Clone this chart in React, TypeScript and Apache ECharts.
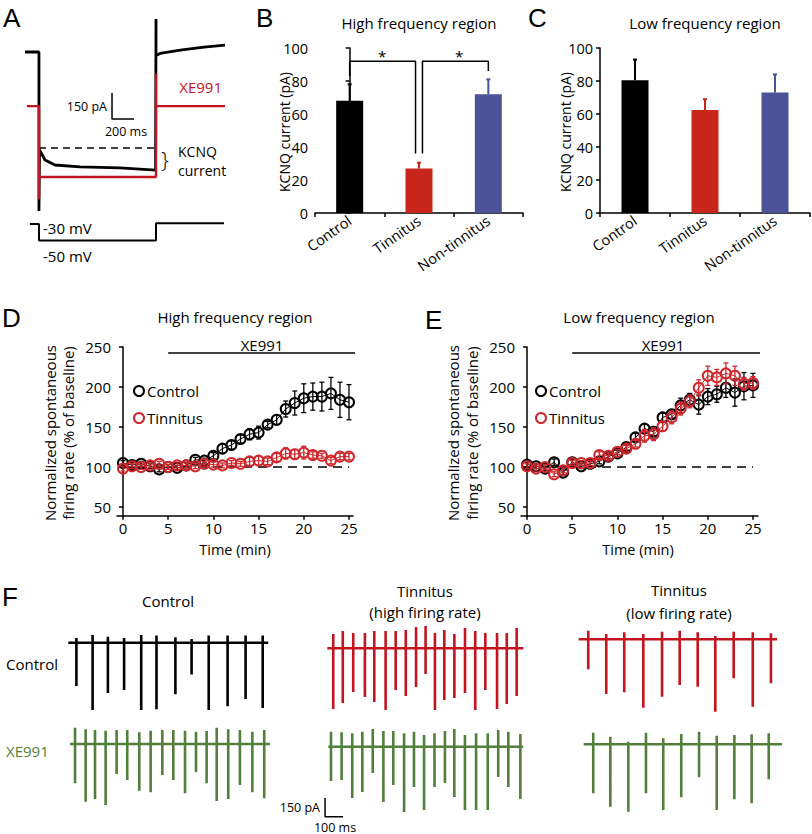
import React, { useEffect, useRef } from "react";
import * as echarts from "echarts";

// ---------------- Data ----------------
const barCategories = ["Control", "Tinnitus", "Non-tinnitus"];
const barColors = ["#000000", "#c8261b", "#4a5398"];
const highFreqKcnqMean = [68, 27, 72];
const highFreqKcnqSem = [10, 3.5, 9];
const lowFreqKcnqMean = [80.5, 62.5, 73];
const lowFreqKcnqSem = [12.5, 6.5, 11];

const minutes = [0, 1, 2, 3, 4, 5, 6, 7, 8, 9, 10, 11, 12, 13, 14, 15, 16, 17, 18, 19, 20, 21, 22, 23, 24, 25];
const highCtrl = [105, 102.5, 104, 101, 97, 100, 99, 102, 109, 108, 114, 123, 127.5, 135, 141, 143, 153, 159, 172.5, 180, 186, 188, 188, 192, 184, 181];
const highCtrlErr = [3, 3, 3, 3, 3, 3, 3, 3, 3, 3, 4, 6, 5, 5, 7, 8, 4, 6, 10, 15, 18, 17, 18, 20, 22, 22];
const highTinn = [98, 101, 100, 102, 104, 100, 102, 102, 101, 104, 103, 102, 105, 104, 107, 108, 107, 112, 117, 116, 118, 115, 114, 108, 113, 113];
const highTinnErr = [3, 3, 3, 3, 3, 3, 3, 3, 3, 3, 3, 3, 3, 3, 5, 6, 4, 5, 7, 6, 8, 4, 3, 4, 4, 4];
const lowCtrl = [103, 101, 98, 106, 93, 106, 101, 104, 107, 113, 117, 125, 137, 148, 144, 162, 166, 177, 184, 178, 188, 191, 199, 193, 201, 202];
const lowCtrlErr = [3, 3, 3, 4, 3, 3, 3, 3, 3, 3, 4, 4, 5, 6, 5, 5, 5, 9, 8, 12, 10, 10, 12, 17, 17, 15];
const lowTinn = [101, 98, 100, 91, 96, 105, 105, 105, 115, 114, 119, 123, 129, 139, 141, 151, 162, 173, 182, 199, 214, 212, 217, 214, 204, 205];
const lowTinnErr = [3, 3, 3, 3, 3, 3, 3, 3, 4, 3, 3, 4, 4, 8, 8, 6, 8, 8, 8, 10, 12, 10, 13, 12, 8, 8];
const timeTicks = [0, 5, 10, 15, 20, 25];
const rateTicks = [50, 100, 150, 200, 250];

// Panel A traces (time ms, current pA relative to control holding level)
const aControlTrace = [[-127, 0], [0, 0], [0, -917], [5, -565], [55, -623], [145, -652], [373, -663], [736, -669], [1060, -681], [1064, -681], [1064, 190], [1064, -20], [1100, -8], [1300, 12], [1500, 28], [1691, 40]];
const aXe991Trace = [[-110, -312], [0, -312], [0, -850], [0, -721], [1064, -721], [1064, -127], [1064, -312], [1691, -312]];
const aKcnqLevel = [[0, -554], [1064, -554]];
const aScaleBar = [[664, -237], [664, -387], [864, -387]];
const aVoltageStep = [[-82, -30], [0, -30], [0, -50], [1064, -50], [1064, -29], [1682, -29]];

// Panel F spike trains (spike time ms, upward pA, downward pA)
const fCtrlCtrlTimes = [45, 135, 220, 310, 405, 490, 595, 685, 780, 885, 985, 1080];
const fCtrlCtrlUp = [40, 65, 50, 40, 65, 60, 45, 30, 60, 60, 60, 60];
const fCtrlCtrlDown = [-360, -560, -420, -395, -560, -555, -430, -265, -560, -530, -470, -545];
const fCtrlXeTimes = [28, 87, 139, 198, 259, 318, 385, 448, 513, 574, 639, 700, 759, 815, 879, 944, 1013, 1079];
const fCtrlXeUp = [136, 122, 117, 111, 117, 117, 97, 111, 117, 117, 111, 103, 108, 136, 122, 117, 103, 117];
const fCtrlXeDown = [-328, -481, -458, -508, -250, -300, -389, -403, -258, -300, -411, -236, -328, -475, -458, -342, -403, -453];
const fHighCtrlTimes = [33, 86, 144, 209, 261, 324, 380, 436, 493, 546, 598, 650, 706, 765, 822, 878, 943, 997, 1052];
const fHighCtrlUp = [119, 144, 128, 128, 144, 144, 144, 153, 178, 186, 128, 153, 119, 169, 144, 128, 128, 128, 169];
const fHighCtrlDown = [-506, -456, -364, -406, -448, -514, -348, -398, -323, -214, -514, -431, -414, -373, -514, -348, -506, -464, -398];
const fHighXeTimes = [15, 74, 133, 189, 247, 306, 361, 421, 476, 532, 590, 648, 700, 759, 821, 886, 944, 1000, 1067];
const fHighXeUp = [125, 120, 112, 125, 148, 131, 131, 112, 125, 98, 112, 131, 148, 98, 112, 112, 139, 125, 106];
const fHighXeDown = [-286, -278, -428, -378, -219, -461, -319, -544, -336, -528, -336, -303, -419, -528, -528, -528, -253, -336, -436];
const fLowCtrlTimes = [53, 153, 253, 359, 463, 561, 661, 759, 861, 967, 1068];
const fLowCtrlUp = [72, 44, 58, 44, 63, 72, 58, 28, 63, 58, 50];
const fLowCtrlDown = [-250, -456, -442, -570, -478, -381, -395, -603, -325, -562, -367];
const fLowXeTimes = [53, 148, 248, 346, 442, 542, 641, 739, 837, 933, 1028];
const fLowXeUp = [97, 63, 22, 97, 50, 86, 105, 72, 78, 83, 92];
const fLowXeDown = [-408, -520, -562, -408, -548, -442, -275, -548, -458, -492, -292];
const fScaleBar = [[-18, -427], [-18, -583], [82, -583]];

// ---------------- Styling ----------------
const FONT = "'Open Sans', 'Noto Sans', sans-serif";
const LETTER_FONT = "'Liberation Sans', Arial, sans-serif";
const RED = "#d0262c";
const TRACE_RED = "#c3141f";
const GREEN = "#537f3d";
const BLACK = "#000000";

function spikeTrain(times: number[], ups: number[], downs: number[], duration: number) {
  const d: number[][] = [[0, 0]];
  times.forEach((t, i) => {
    d.push([t, 0], [t, ups[i]], [t, downs[i]], [t, 0]);
  });
  d.push([duration, 0]);
  return d;
}

export default function App() {
  const ref = useRef<HTMLDivElement>(null);
  useEffect(() => {
    const chart = echarts.init(ref.current!, null, { renderer: "svg", width: 812, height: 834 });
    const grids: any[] = [];
    const xAxes: any[] = [];
    const yAxes: any[] = [];
    const series: any[] = [];
    const graphics: any[] = [];

    const addGrid = (g: any, x: any, y: any) => {
      const gi = grids.length;
      grids.push({ ...g, containLabel: false, outerBoundsMode: "none" });
      const xi = xAxes.length;
      xAxes.push({ ...x, gridIndex: gi });
      const yi = yAxes.length;
      yAxes.push({ ...y, gridIndex: gi });
      return { gi, xi, yi };
    };
    const hidden = (min: number, max: number) => ({ type: "value", show: false, min, max, splitLine: { show: false } });
    const text = (t: string, x: number, y: number, size: number, opts: any = {}) => {
      graphics.push({
        type: "text",
        x,
        y,
        rotation: opts.rotation || 0,
        style: {
          text: t,
          fill: opts.color || BLACK,
          fontSize: size,
          fontFamily: opts.font || FONT,
          fontWeight: opts.weight || "normal",
          align: opts.align || "center",
          verticalAlign: opts.valign || "middle",
        },
      });
    };
    const axisLine = { show: true, lineStyle: { color: BLACK, width: 1.5 } };
    const axisTick = { show: true, length: 4, lineStyle: { color: BLACK, width: 1.5 } };

    // ---------- Panel A ----------
    const A_MS = 0.11;
    const A_PA = 26 / 150;
    const aMain = addGrid(
      { left: 25, top: 52 - 215 * A_PA, width: (1691 + 127) * A_MS, height: 1415 * A_PA },
      hidden(-127, 1691),
      hidden(-1200, 215)
    );
    series.push(
      { type: "line", xAxisIndex: aMain.xi, yAxisIndex: aMain.yi, data: aControlTrace, symbol: "none", lineStyle: { color: BLACK, width: 2.8 }, z: 3 },
      { type: "line", xAxisIndex: aMain.xi, yAxisIndex: aMain.yi, data: aXe991Trace, symbol: "none", lineStyle: { color: TRACE_RED, width: 2.4 }, z: 4 },
      { type: "line", xAxisIndex: aMain.xi, yAxisIndex: aMain.yi, data: aKcnqLevel, symbol: "none", lineStyle: { color: BLACK, width: 1.5, type: [7, 5] }, z: 3 },
      { type: "line", xAxisIndex: aMain.xi, yAxisIndex: aMain.yi, data: aScaleBar, symbol: "none", lineStyle: { color: BLACK, width: 1.5 }, z: 3 }
    );
    const aVolt = addGrid(
      { left: 25, top: 224 - 30 * 0.825, width: (1691 + 127) * A_MS, height: 60 * 0.825 },
      hidden(-127, 1691),
      hidden(-60, 0)
    );
    series.push({ type: "line", xAxisIndex: aVolt.xi, yAxisIndex: aVolt.yi, data: aVoltageStep, symbol: "none", lineStyle: { color: BLACK, width: 2 } });
    text("A", 3, 18, 26, { font: LETTER_FONT, align: "left" });
    text("XE991", 222, 87, 15, { color: TRACE_RED, align: "right" });
    text("150 pA", 107, 106, 12.5, { align: "right" });
    text("200 ms", 126, 131, 12.5);
    text("}", 165, 159, 22, { weight: "lighter" });
    text("KCNQ", 178, 151, 14, { align: "left" });
    text("current", 178, 170, 14, { align: "left" });
    text("-30 mV", 43, 228, 15, { align: "left" });
    text("-50 mV", 43, 256, 15, { align: "left" });

    // ---------- Panels B & C ----------
    const barPanel = (left: number, width: number, means: number[], sems: number[]) => {
      const g = addGrid(
        { left, top: 48, width, height: 165 },
        {
          type: "category",
          data: barCategories,
          axisLine,
          axisTick: { ...axisTick, alignWithLabel: false },
          axisLabel: { rotate: 35, color: BLACK, fontSize: 14.5, fontFamily: FONT, margin: 6 },
          splitLine: { show: false },
        },
        {
          type: "value",
          min: 0,
          max: 100,
          interval: 20,
          axisLine,
          axisTick,
          axisLabel: { color: BLACK, fontSize: 14.5, fontFamily: FONT, margin: 7 },
          splitLine: { show: false },
        }
      );
      series.push({
        type: "bar",
        xAxisIndex: g.xi,
        yAxisIndex: g.yi,
        barWidth: 27,
        data: means.map((v, i) => ({ value: v, itemStyle: { color: barColors[i] } })),
        z: 2,
      });
      series.push({
        type: "custom",
        xAxisIndex: g.xi,
        yAxisIndex: g.yi,
        data: means.map((v, i) => [i, v, v + sems[i]]),
        renderItem: (params: any, api: any) => {
          const i = api.value(0);
          const p0 = api.coord([i, api.value(1)]);
          const p1 = api.coord([i, api.value(2)]);
          const c = barColors[i];
          return {
            type: "group",
            children: [
              { type: "line", shape: { x1: p0[0], y1: p0[1], x2: p1[0], y2: p1[1] }, style: { stroke: c, lineWidth: 2 } },
              { type: "line", shape: { x1: p1[0] - 2, y1: p1[1], x2: p1[0] + 2, y2: p1[1] }, style: { stroke: c, lineWidth: 2 } },
            ],
          };
        },
        z: 1,
      });
      return g;
    };
    const gB = barPanel(315, 208, highFreqKcnqMean, highFreqKcnqSem);
    barPanel(600, 210, lowFreqKcnqMean, lowFreqKcnqSem);
    // significance brackets on a hidden value axis over panel B
    const bOverlayX = xAxes.length;
    xAxes.push({ ...hidden(-0.5, 2.5), gridIndex: gB.gi });
    series.push(
      { type: "line", xAxisIndex: bOverlayX, yAxisIndex: gB.yi, data: [[0, 83], [0, 92], [0.95, 92], [0.95, 36]], symbol: "none", lineStyle: { color: BLACK, width: 1.5 } },
      { type: "line", xAxisIndex: bOverlayX, yAxisIndex: gB.yi, data: [[1.05, 36], [1.05, 92], [2, 92], [2, 86]], symbol: "none", lineStyle: { color: BLACK, width: 1.5 } }
    );
    text("*", 382, 56, 15);
    text("*", 459, 56, 15);
    text("B", 256, 18, 26, { font: LETTER_FONT, align: "left" });
    text("C", 528, 18, 26, { font: LETTER_FONT, align: "left" });
    text("High frequency region", 419, 23, 15);
    text("Low frequency region", 705, 23, 15);
    text("KCNQ current (pA)", 284, 132, 14, { rotation: Math.PI / 2 });
    text("KCNQ current (pA)", 565, 132, 14, { rotation: Math.PI / 2 });

    // ---------- Panels D & E ----------
    const PX_MIN = 9.04;
    const PX_RATE = 0.8;
    const timePanel = (x0: number, left: number, right: number, ctrl: number[], ctrlErr: number[], tinn: number[], tinnErr: number[]) => {
      const xmin = (left - x0) / PX_MIN;
      const xmax = (right - x0) / PX_MIN;
      const g = addGrid(
        { left, top: 347, width: right - left, height: 211 * PX_RATE },
        {
          type: "value",
          min: xmin,
          max: xmax,
          axisLine,
          axisTick: { ...axisTick, customValues: timeTicks },
          axisLabel: { color: BLACK, fontSize: 15, fontFamily: FONT, margin: 5, customValues: timeTicks },
          splitLine: { show: false },
        },
        {
          type: "value",
          min: 39,
          max: 250,
          axisLine,
          axisTick: { ...axisTick, customValues: rateTicks },
          axisLabel: { color: BLACK, fontSize: 15, fontFamily: FONT, margin: 6, customValues: rateTicks },
          splitLine: { show: false },
        }
      );
      // XE991 application bar and baseline
      series.push(
        { type: "line", xAxisIndex: g.xi, yAxisIndex: g.yi, data: [[5, 242.5], [xmax + 0.3, 242.5]], symbol: "none", clip: false, lineStyle: { color: BLACK, width: 1.5 } },
        { type: "line", xAxisIndex: g.xi, yAxisIndex: g.yi, data: [[0, 100], [25, 100]], symbol: "none", lineStyle: { color: BLACK, width: 1.5, type: [9, 6] }, z: 1 }
      );
      const addGroup = (vals: number[], errs: number[], color: string, z: number) => {
        series.push({
          type: "custom",
          xAxisIndex: g.xi,
          yAxisIndex: g.yi,
          data: minutes.map((t, i) => [t, vals[i] - errs[i], vals[i] + errs[i]]),
          renderItem: (params: any, api: any) => {
            const t = api.value(0);
            const a = api.coord([t, api.value(1)]);
            const b = api.coord([t, api.value(2)]);
            const st = { stroke: color, lineWidth: 1.3 };
            return {
              type: "group",
              children: [
                { type: "line", shape: { x1: a[0], y1: a[1], x2: b[0], y2: b[1] }, style: st },
                { type: "line", shape: { x1: a[0] - 2.5, y1: a[1], x2: a[0] + 2.5, y2: a[1] }, style: st },
                { type: "line", shape: { x1: b[0] - 2.5, y1: b[1], x2: b[0] + 2.5, y2: b[1] }, style: st },
              ],
            };
          },
          z,
        });
        series.push({
          type: "line",
          xAxisIndex: g.xi,
          yAxisIndex: g.yi,
          data: minutes.map((t, i) => [t, vals[i]]),
          symbol: "circle",
          symbolSize: 10,
          itemStyle: { color: "rgba(255,255,255,0)", borderColor: color, borderWidth: 2 },
          lineStyle: { color, width: 1 },
          z: z + 1,
        });
      };
      addGroup(ctrl, ctrlErr, BLACK, 2);
      addGroup(tinn, tinnErr, RED, 4);
      return g;
    };
    timePanel(123, 117, 353, highCtrl, highCtrlErr, highTinn, highTinnErr);
    timePanel(527, 521, 758, lowCtrl, lowCtrlErr, lowTinn, lowTinnErr);
    text("D", 2, 318, 26, { font: LETTER_FONT, align: "left" });
    text("E", 425, 320, 26, { font: LETTER_FONT, align: "left" });
    text("High frequency region", 235, 317, 15);
    text("Low frequency region", 639, 317, 15);
    text("XE991", 262, 345, 15);
    text("XE991", 663, 345, 15);
    text("Time (min)", 235, 549, 14.5);
    text("Time (min)", 638, 549, 14.5);
    text("Normalized spontaneous", 50, 433, 15, { rotation: Math.PI / 2 });
    text("firing rate (% of baseline)", 68, 433, 15, { rotation: Math.PI / 2 });
    text("Normalized spontaneous", 453, 433, 15, { rotation: Math.PI / 2 });
    text("firing rate (% of baseline)", 472, 433, 15, { rotation: Math.PI / 2 });
    const legend = (cx: number) => {
      graphics.push(
        { type: "circle", shape: { cx, cy: 391, r: 5 }, style: { fill: "none", stroke: BLACK, lineWidth: 2 } },
        { type: "circle", shape: { cx, cy: 418, r: 5 }, style: { fill: "none", stroke: RED, lineWidth: 2 } }
      );
      text("Control", cx + 8, 391, 15, { align: "left" });
      text("Tinnitus", cx + 8, 418, 15, { align: "left" });
    };
    legend(139);
    legend(541);

    // ---------- Panel F ----------
    const F_MS = 0.18;
    const F_PA = 0.12;
    const fTrace = (x0: number, base: number, xmin: number, duration: number, color: string, data: number[][], extra?: number[][]) => {
      const g = addGrid(
        { left: x0 + xmin * F_MS, top: base - 200 * F_PA, width: (duration - xmin) * F_MS, height: 850 * F_PA },
        hidden(xmin, duration),
        hidden(-650, 200)
      );
      series.push({ type: "line", xAxisIndex: g.xi, yAxisIndex: g.yi, data, symbol: "none", lineStyle: { color, width: 2.6 } });
      if (extra) {
        series.push({ type: "line", xAxisIndex: g.xi, yAxisIndex: g.yi, data: extra, symbol: "none", lineStyle: { color: BLACK, width: 1.5 } });
      }
    };
    fTrace(68.3, 642.7, 0, 1111, BLACK, spikeTrain(fCtrlCtrlTimes, fCtrlCtrlUp, fCtrlCtrlDown, 1111));
    fTrace(70, 744, 0, 1111, GREEN, spikeTrain(fCtrlXeTimes, fCtrlXeUp, fCtrlXeDown, 1111));
    fTrace(327.3, 648.3, 0, 1089, TRACE_RED, spikeTrain(fHighCtrlTimes, fHighCtrlUp, fHighCtrlDown, 1089));
    fTrace(328.3, 746.7, -40, 1083, GREEN, spikeTrain(fHighXeTimes, fHighXeUp, fHighXeDown, 1083), fScaleBar);
    fTrace(578.7, 639.3, 0, 1102, TRACE_RED, spikeTrain(fLowCtrlTimes, fLowCtrlUp, fLowCtrlDown, 1102));
    fTrace(583.7, 744.3, 0, 1102, GREEN, spikeTrain(fLowXeTimes, fLowXeUp, fLowXeDown, 1102));
    text("F", 2, 597, 26, { font: LETTER_FONT, align: "left" });
    text("Control", 168, 601, 15);
    text("Tinnitus", 425, 591, 15);
    text("(high firing rate)", 425, 612, 15);
    text("Tinnitus", 679, 590, 15);
    text("(low firing rate)", 679, 613, 15);
    text("Control", 6, 664, 15, { align: "left" });
    text("XE991", 6, 751, 15, { align: "left", color: GREEN });
    text("150 pA", 320, 807, 12.5, { align: "right" });
    text("100 ms", 335, 827, 12.5);

    chart.setOption({
      animation: false,
      textStyle: { fontFamily: FONT },
      grid: grids,
      xAxis: xAxes,
      yAxis: yAxes,
      series,
      graphic: graphics,
    });
    return () => chart.dispose();
  }, []);
  return (
    <div
      ref={ref}
      style={{ position: "absolute", left: 0, top: 0, width: 812, height: 834, background: "#ffffff" }}
    />
  );
}
